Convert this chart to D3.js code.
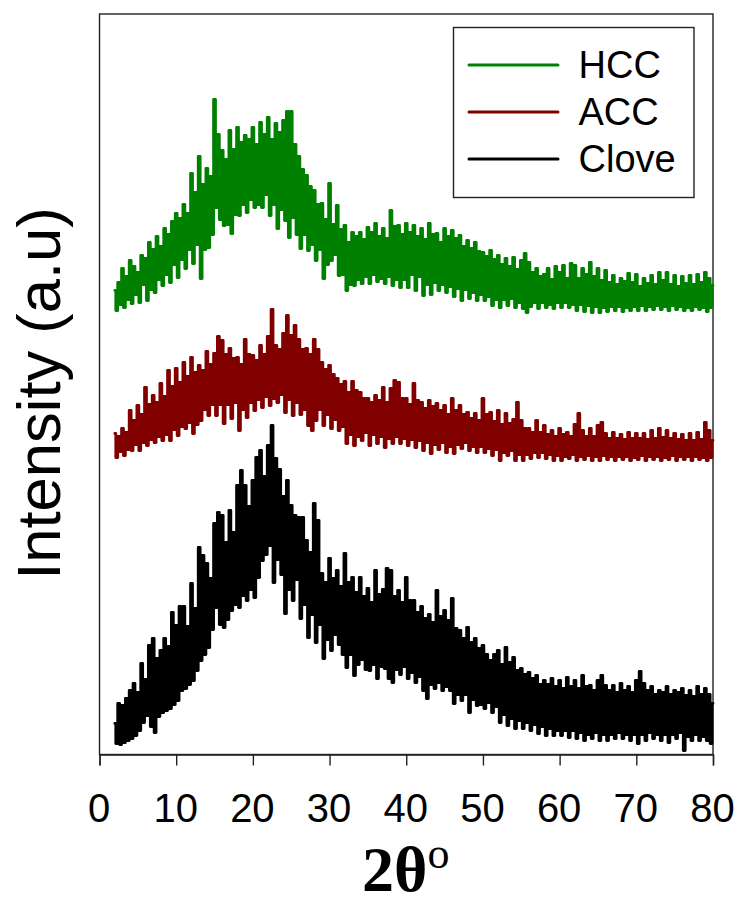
<!DOCTYPE html>
<html><head><meta charset="utf-8">
<style>html,body{margin:0;padding:0;background:#fff}svg{display:block}</style>
<script src="https://cdn.jsdelivr.net/npm/d3@7"></script>
</head><body><svg id="c" width="740" height="897"></svg>
<script>
const xTicks=[0,10,20,30,40,50,60,70,80];
const seriesNames=["HCC","ACC","Clove"];
const seriesColors=["#008000","#800000","#000000"];
const startAngle=2, sampleStep=0.25;

const hccPeaks=[464,472,486,478,494,488,482,499,496,512,
505,518,508,526,520,533,541,536,550,541,
581,562,598,570,586,578,655,620,604,595,
624,605,627,612,619,615,627,610,632,620,
637,615,631,622,634,643,643,610,598,585,
579,568,564,550,551,535,571,530,549,525,
529,512,522,518,522,515,527,522,531,518,
526,516,544,528,529,520,531,522,529,518,
526,515,531,520,521,512,526,518,524,516,
519,508,514,506,512,503,502,498,504,495,
499,490,496,488,497,485,494,501,492,482,
486,478,480,486,475,488,482,489,476,491,
489,476,486,480,492,478,486,474,484,472,
479,470,476,473,481,472,480,468,476,471,
479,470,482,474,482,470,479,468,478,471,
479,470,480,472,482,476,469];
const hccTroughs=[444,450,447,455,451,460,452,470,454,465,
462,475,469,480,472,490,477,495,486,505,
491,510,476,505,507,520,547,535,529,530,
521,540,539,550,542,555,547,550,547,560,
539,550,526,545,534,517,537,520,506,520,
504,510,494,505,476,490,494,500,479,480,
464,470,469,475,471,478,471,480,473,476,
471,478,469,475,467,475,467,480,464,478,
459,470,460,472,464,470,462,468,458,466,
454,465,456,462,454,460,454,458,449,455,
447,455,449,456,447,452,446,442,448,452,
446,452,447,450,446,452,447,452,447,450,
444,450,443,449,442,448,442,447,443,448,
444,448,443,447,444,448,444,449,444,448,
445,449,445,448,444,449,445,448,444,447,
444,448,445,447,443,447];

const accPeaks=[321,318,326,322,344,334,349,340,367,350,
359,352,371,358,384,368,386,372,392,378,
397,382,389,384,403,390,401,418,414,400,
406,396,397,390,415,400,399,394,409,400,
418,445,409,405,421,439,419,429,415,405,
406,400,415,405,392,385,389,380,376,370,
373,362,373,364,362,356,356,352,359,354,
367,352,366,374,372,356,356,350,371,354,
352,346,354,348,351,344,349,340,356,344,
349,340,342,336,341,334,356,340,342,333,
344,330,341,331,335,352,334,326,326,322,
334,322,329,320,324,318,326,320,322,318,
330,341,324,318,326,318,329,332,321,316,
322,316,320,315,322,316,321,316,321,315,
324,316,326,317,324,316,321,315,320,314,
321,314,322,315,332,324,314];
const accTroughs=[297,303,299,305,304,310,304,312,309,315,
312,318,314,320,314,325,319,328,326,332,
321,330,334,345,339,350,339,350,331,350,
336,352,324,345,337,352,344,355,347,358,
349,356,352,360,342,355,339,352,340,345,
329,324,334,345,329,340,326,335,324,328,
311,320,309,318,314,322,309,320,311,318,
307,316,311,318,311,316,309,315,307,314,
304,312,301,310,305,312,302,308,301,310,
306,312,304,308,302,308,302,306,299,305,
294,302,299,304,294,300,294,300,296,302,
297,302,296,300,294,299,294,298,296,300,
294,298,295,299,294,298,294,299,295,298,
294,298,295,298,294,297,295,299,294,298,
295,298,294,297,295,299,294,298,295,298,
294,298,295,297,294,297];

const clovePeaks=[31,51,49,56,64,71,62,91,75,109,
116,96,104,116,108,142,129,148,148,128,
171,146,207,199,191,176,231,242,239,212,
244,222,269,284,269,248,274,297,304,278,
309,329,296,285,258,274,249,239,237,237,
214,202,251,234,181,172,196,176,184,168,
201,172,177,162,177,158,166,152,184,160,
165,186,184,158,164,152,177,154,154,142,
148,136,140,132,164,138,144,134,156,126,
124,116,127,112,116,106,109,100,94,100,
104,90,107,92,97,84,86,80,82,76,
79,70,74,70,76,68,74,66,77,68,
74,66,79,68,69,64,74,79,69,64,
69,62,71,64,68,62,74,83,71,64,
68,60,64,62,68,60,64,62,66,59,
64,58,68,60,66,60,51];
const cloveTroughs=[11,10,12,14,16,19,24,32,39,28,
22,38,42,44,46,50,54,64,66,70,
74,84,94,100,107,125,147,130,127,135,
144,150,147,159,154,165,157,177,194,200,
209,172,195,180,141,165,154,175,136,150,
117,140,112,130,96,115,104,120,110,100,
87,100,79,90,95,85,84,90,76,88,
86,76,72,85,80,88,76,82,72,78,
64,56,70,66,72,64,68,64,51,60,
54,60,42,55,49,50,46,52,42,48,
32,40,29,36,26,34,26,32,24,30,
21,28,19,26,19,24,19,24,17,24,
16,22,14,20,16,22,14,20,14,20,
16,22,16,20,14,20,11,20,14,22,
16,20,14,20,12,20,16,22,4,18,
14,20,14,18,14,11];

// each pattern alternates one reading at its crest and one at its trough
function trace(peaks,troughs){
  const out=[];
  peaks.forEach((p,i)=>{
    out.push([startAngle+2*i*sampleStep,p]);
    if(i<troughs.length) out.push([startAngle+(2*i+1)*sampleStep,troughs[i]]);
  });
  return out;
}
const traces=[trace(hccPeaks,hccTroughs),trace(accPeaks,accTroughs),trace(clovePeaks,cloveTroughs)];

const svg=d3.select("#c");
const plotL=99.5,plotR=713,plotT=14,plotB=754.5;
const x=d3.scaleLinear().domain([0,80]).range([plotL,plotR]);
const y=d3.scaleLinear().domain([0,740.5]).range([plotB,plotT]);
const line=d3.line().x(d=>x(d[0])).y(d=>y(d[1])).curve(d3.curveStep);
const sans="'Liberation Sans',Arial,sans-serif", serif="'Liberation Serif','Times New Roman',serif";

svg.append("rect").attr("x",plotL).attr("y",plotT).attr("width",plotR-plotL).attr("height",plotB-plotT)
  .attr("fill","none").attr("stroke","#222").attr("stroke-width",1.4);

svg.selectAll("path.t").data(traces).join("path").attr("class","t")
  .attr("d",line).attr("fill","none")
  .attr("stroke",(d,i)=>seriesColors[i]).attr("stroke-width",2.8)
  .attr("stroke-linejoin","round").attr("stroke-linecap","round");

const ax=svg.append("g").attr("transform",`translate(0,${plotB})`)
  .call(d3.axisBottom(x).tickValues(xTicks).tickSize(11).tickPadding(0).tickFormat(d3.format("d")));
ax.select(".domain").attr("stroke","#222").attr("stroke-width",1.4);
ax.selectAll(".tick line").attr("stroke","#222").attr("stroke-width",1.4);
ax.selectAll(".tick text").attr("y",0).attr("dy",0)
  .attr("transform","translate(-1,67.5)").attr("font-family",sans).attr("font-size",40).attr("fill","#000");

svg.append("text").attr("transform","translate(60,393.5) rotate(-90)").attr("text-anchor","middle")
  .attr("font-family",sans).attr("font-size",61.5).attr("fill","#000").text("Intensity (a.u)");

const xl=svg.append("text").attr("x",362).attr("y",891).attr("text-anchor","start")
  .attr("font-family",serif).attr("fill","#000");
xl.append("tspan").attr("font-size",64).attr("font-weight","bold").text("2θ");
xl.append("tspan").attr("dy",-23).attr("font-size",44).text("o");

svg.append("rect").attr("x",453.5).attr("y",27.5).attr("width",240.5).attr("height",170)
  .attr("fill","#fff").attr("stroke","#222").attr("stroke-width",1.4);
const lineY=d3.scalePoint().domain(seriesNames).range([65,159]);
const lg=svg.selectAll("g.l").data(seriesNames).join("g").attr("class","l")
  .attr("transform",d=>`translate(0,${lineY(d)})`);
lg.append("line").attr("x1",469).attr("x2",558).attr("stroke",(d,i)=>seriesColors[i]).attr("stroke-width",3).attr("stroke-linecap","round");
lg.append("text").attr("x",578.5).attr("y",13).attr("font-family",sans).attr("font-size",38).attr("fill","#000").text(d=>d);
</script></body></html>
